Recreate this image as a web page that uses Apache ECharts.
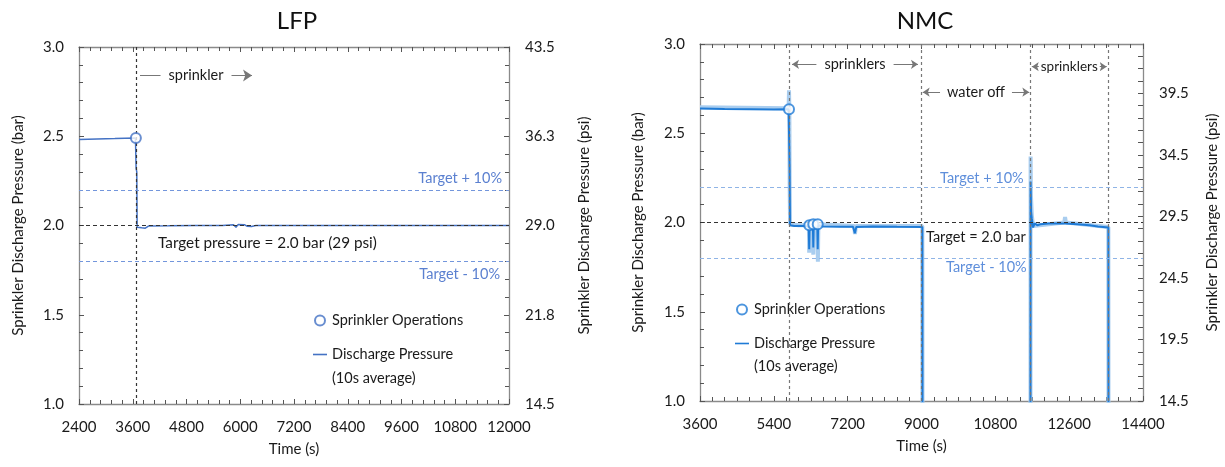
<!DOCTYPE html>
<html>
<head>
<meta charset="utf-8">
<script src="https://cdn.jsdelivr.net/npm/echarts@6/dist/echarts.min.js"></script>
<style>
  html, body { margin: 0; padding: 0; background: #fff; }
  #chart { width: 1225px; height: 467px; }
</style>
</head>
<body>
<div id="chart"></div>
<script>
// ---- data (time in s, pressure in bar) ----
var lfpPressure = [
    [2400, 2.482], [2800, 2.485], [3200, 2.487], [3660, 2.49], [3670, 2.49],
    [3675, 2.32], [3690, 2.30], [3698, 1.99], [3800, 1.987], [3880, 1.985],
    [3950, 1.997], [4400, 1.998], [5000, 2.0], [5600, 2.0], [5850, 2.004],
    [5905, 1.99], [5950, 2.005], [6100, 2.004], [6150, 1.996], [6250, 1.995],
    [6350, 2.0], [7200, 2.0], [9600, 2.0], [12000, 2.0]
];
var lfpOps = [[3670, 2.49]];
var lfpEvents = [3673];

var nmcPressure = [
    [3600, 2.638], [4200, 2.636], [4800, 2.635], [5400, 2.633], [5760, 2.634],
    [5775, 2.64], [5785, 2.30], [5795, 1.985], [5900, 1.98], [6100, 1.98],
    [6250, 1.978], [6262, 1.85], [6272, 1.98], [6352, 1.98], [6362, 1.86],
    [6372, 1.985], [6460, 1.98], [6470, 1.85], [6480, 1.985], [6600, 1.978],
    [7000, 1.976], [7330, 1.976], [7375, 1.94], [7410, 1.975], [7800, 1.978],
    [8400, 1.976], [9020, 1.975], [9028, 0], [11655, 0], [11660, 2.23],
    [11672, 2.06], [11690, 2.02], [11720, 1.972], [11760, 1.995], [11820, 1.985],
    [11900, 1.99], [12100, 1.995], [12500, 1.995], [12800, 1.99], [13100, 1.985],
    [13300, 1.978], [13555, 1.972], [13562, 0], [14400, 0]
];
var nmcRaw = [
    [3600, 2.645], [5760, 2.64], [5770, 2.74], [5778, 2.64], [5786, 2.2],
    [5796, 1.99], [6000, 1.985], [6255, 1.985], [6262, 1.83], [6270, 2.0],
    [6355, 1.99], [6362, 1.82], [6372, 2.0], [6462, 1.99], [6474, 1.78],
    [6486, 1.99], [7360, 1.98], [7378, 1.935], [7400, 1.98], [9020, 1.98],
    [9028, 0], [11655, 0], [11660, 2.37], [11668, 2.15], [11690, 2.04],
    [11720, 1.98], [12480, 2.0], [12500, 2.03], [12520, 2.0], [13555, 1.975],
    [13562, 0], [14400, 0]
];
var nmcOps = [[5770, 2.635], [6265, 1.985], [6362, 1.99], [6470, 1.99]];
var nmcEvents = [5770, 9000, 11660, 13560];

var targetBar = 2.0;
var targetHigh = 2.2;
var targetLow = 1.8;

var psiLabelsLFP = ['14.5', '21.8', '29.0', '36.3', '43.5'];
var psiLabelsNMC = ['14.5', '19.5', '24.5', '29.5', '34.5', '39.5'];

var FONT = 'Lato, "Open Sans", sans-serif';
var TXT = '#1a1a1a';
var axisGray = '#8a8a8a';
var lfpBlue = '#4472c4';
var nmcBlue = '#1f7bd6';
var lineIcon = 'path://M0,0H14V1.6H0Z';

var chart = echarts.init(document.getElementById('chart'));

function xAx(grid, pos, min, max, step, minor, withName) {
    return {
        type: 'value', gridIndex: grid, position: pos,
        min: min, max: max, interval: step,
        name: withName ? 'Time (s)' : '', nameLocation: 'middle', nameGap: 38,
        nameTextStyle: { fontFamily: FONT, fontSize: 15, color: TXT },
        axisLine: { show: true, onZero: false, lineStyle: { color: axisGray, width: 1.3 } },
        axisTick: { show: true, inside: true, length: 5, lineStyle: { color: '#555' } },
        minorTick: { show: true, splitNumber: minor, length: 4, lineStyle: { color: '#555' } },
        axisLabel: { show: withName, fontFamily: FONT, fontSize: 15, color: TXT, margin: 16,
            formatter: function (v) { return String(v); } },
        splitLine: { show: false }
    };
}

function barAx(grid, gap) {
    return {
        type: 'value', gridIndex: grid, position: 'left',
        min: 1, max: 3, interval: 0.5,
        name: 'Sprinkler Discharge Pressure (bar)', nameLocation: 'middle', nameGap: gap,
        nameTextStyle: { fontFamily: FONT, fontSize: 15, color: TXT },
        axisLine: { show: true, onZero: false, lineStyle: { color: axisGray, width: 1.3 } },
        axisTick: { show: true, inside: true, length: 5, lineStyle: { color: '#555' } },
        minorTick: { show: true, splitNumber: 5, length: 4, lineStyle: { color: '#555' } },
        axisLabel: { fontFamily: FONT, fontSize: 15, color: TXT, margin: 15,
            formatter: function (v) { return v.toFixed(1); } },
        splitLine: { show: false }
    };
}

// psi axis: 0..29 offset from 14.5 psi (= 1.0 bar)
function psiAx(grid, step, minor, gap, fmt) {
    return {
        type: 'value', gridIndex: grid, position: 'right',
        min: 0, max: 29, interval: step,
        name: 'Sprinkler Discharge Pressure (psi)', nameLocation: 'middle', nameGap: gap,
        nameRotate: 90,
        nameTextStyle: { fontFamily: FONT, fontSize: 15, color: TXT },
        axisLine: { show: true, onZero: false, lineStyle: { color: axisGray, width: 1.3 } },
        axisTick: { show: true, inside: true, length: 5, lineStyle: { color: '#555' } },
        minorTick: { show: minor > 0, splitNumber: minor || 5, length: 4, lineStyle: { color: '#555' } },
        axisLabel: { fontFamily: FONT, fontSize: 15, color: TXT, margin: 16,
            showMaxLabel: step === 7.25, formatter: fmt },
        splitLine: { show: false }
    };
}

function eventLines(times, color) {
    return times.map(function (t) {
        return { xAxis: t, lineStyle: { color: color, type: [3, 3], width: 1.2 } };
    });
}

function arrowLine(x1, x2, y, text, color, fontSize, pad, both) {
    return [
        { coord: [x1, y], symbol: both ? 'arrow' : 'none',
          lineStyle: { color: color, type: 'solid', width: 1 },
          label: { show: true, position: 'middle', formatter: text, distance: 0,
                   verticalAlign: 'middle',
                   fontFamily: FONT, fontSize: fontSize, color: TXT,
                   backgroundColor: '#fff', padding: [1, pad] } },
        { coord: [x2, y], symbol: 'arrow' }
    ];
}

var legendNames = {
    lfpOps: 'Sprinkler Operations', lfpP: 'Discharge Pressure',
    nmcOps: 'Sprinkler Operations', nmcP: 'Discharge Pressure'
};

function legendFor(ops, line, left, top) {
    return {
        data: [{ name: ops, icon: 'emptyCircle' }, { name: line, icon: lineIcon }],
        orient: 'vertical', left: left, top: top,
        itemWidth: 14, itemHeight: 10, itemGap: 19, padding: 0,
        selectedMode: false,
        formatter: function (n) { return legendNames[n]; },
        textStyle: { fontFamily: FONT, fontSize: 14.5, color: TXT }
    };
}

function note(x, y, text, color, align, size) {
    return { type: 'text', x: x, y: y, silent: true,
             style: { text: text, font: (size || 14.5) + 'px ' + FONT, fill: color,
                      align: align, verticalAlign: 'middle' } };
}

option = {
    animation: false,
    textStyle: { fontFamily: FONT },
    title: [
        { text: 'LFP', left: 292, top: 4, textAlign: 'center',
          textStyle: { fontFamily: FONT, fontSize: 24, fontWeight: 'normal', color: '#111' } },
        { text: 'NMC', left: 920, top: 4, textAlign: 'center',
          textStyle: { fontFamily: FONT, fontSize: 24, fontWeight: 'normal', color: '#111' } }
    ],
    grid: [
        { left: 79, top: 47, width: 430, height: 357 },
        { left: 700, top: 44, width: 443, height: 357 }
    ],
    legend: [
        legendFor('lfpOps', 'lfpP', 313, 313),
        legendFor('nmcOps', 'nmcP', 735, 302)
    ],
    xAxis: [
        xAx(0, 'bottom', 2400, 12000, 1200, 5, true),
        xAx(0, 'top', 2400, 12000, 1200, 5, false),
        xAx(1, 'bottom', 3600, 14400, 1800, 6, true),
        xAx(1, 'top', 3600, 14400, 1800, 6, false)
    ],
    yAxis: [
        barAx(0, 53),
        psiAx(0, 7.25, 5, 68, function (v) { return psiLabelsLFP[Math.round(v / 7.25)]; }),
        barAx(1, 54),
        psiAx(1, 1, 0, 62, function (v) {
            return v % 5 === 0 && v / 5 < psiLabelsNMC.length ? psiLabelsNMC[v / 5] : '';
        })
    ],
    graphic: [
        note(158, 243, 'Target pressure = 2.0 bar (29 psi)', TXT, 'left', 15.3),
        note(502, 178, 'Target + 10%', '#5b80d0', 'right'),
        note(500, 274, 'Target - 10%', '#5b80d0', 'right'),
        note(332, 378, '(10s average)', TXT, 'left'),
        note(940, 178, 'Target + 10%', '#5f8fdb', 'left'),
        note(926, 237, 'Target = 2.0 bar', TXT, 'left'),
        note(946, 267, 'Target - 10%', '#5f8fdb', 'left'),
        note(754, 366, '(10s average)', TXT, 'left')
    ],
    series: [
        {
            name: 'lfpP', type: 'line', xAxisIndex: 0, yAxisIndex: 0,
            data: lfpPressure, symbol: 'none', z: 3,
            lineStyle: { color: lfpBlue, width: 1.5 }, itemStyle: { color: lfpBlue },
            markLine: {
                silent: true, symbol: ['none', 'none'], symbolSize: 9, precision: 3,
                label: { show: false },
                data: [
                    { yAxis: targetHigh, lineStyle: { color: '#7396dc', type: [4, 3], width: 1 } },
                    { yAxis: targetLow, lineStyle: { color: '#7396dc', type: [4, 3], width: 1 } },
                    { yAxis: targetBar, lineStyle: { color: '#333', type: [4, 3], width: 1 } },
                    arrowLine(3762, 6263, 2.84, 'sprinkler', '#777', 14.5, 8, false)
                ].concat(eventLines(lfpEvents, '#333'))
            }
        },
        {
            name: 'lfpOps', type: 'scatter', xAxisIndex: 0, yAxisIndex: 0,
            data: lfpOps, symbol: 'emptyCircle', symbolSize: 10, z: 5,
            itemStyle: { color: lfpBlue, borderWidth: 1.5 }
        },
        {
            name: 'nmcRaw', type: 'line', xAxisIndex: 2, yAxisIndex: 2,
            data: nmcRaw, symbol: 'none', z: 2,
            lineStyle: { color: '#a9cdef', width: 4 }
        },
        {
            name: 'nmcP', type: 'line', xAxisIndex: 2, yAxisIndex: 2,
            data: nmcPressure, symbol: 'none', z: 3,
            lineStyle: { color: nmcBlue, width: 2 }, itemStyle: { color: nmcBlue },
            markLine: {
                silent: true, symbol: ['none', 'none'], symbolSize: 7, precision: 3,
                label: { show: false },
                data: [
                    { yAxis: targetHigh, lineStyle: { color: '#8fb4e6', type: [4, 3], width: 1.2 } },
                    { yAxis: targetLow, lineStyle: { color: '#8fb4e6', type: [4, 3], width: 1.2 } },
                    { yAxis: targetBar, lineStyle: { color: '#333', type: [4, 3], width: 1 } },
                    arrowLine(5843, 8914, 2.886, 'sprinklers', '#777', 14.5, 8, true),
                    arrowLine(9029, 11628, 2.73, 'water off', '#777', 14.5, 7, true),
                    arrowLine(11690, 13515, 2.873, 'sprinklers', '#777', 13.5, 2, true)
                ].concat(eventLines(nmcEvents, '#777'))
            }
        },
        {
            name: 'nmcOps', type: 'scatter', xAxisIndex: 2, yAxisIndex: 2,
            data: nmcOps, symbol: 'emptyCircle', symbolSize: 10, z: 5,
            itemStyle: { color: nmcBlue, borderWidth: 1.5 }
        }
    ]
};

chart.setOption(option);
</script>
</body>
</html>
